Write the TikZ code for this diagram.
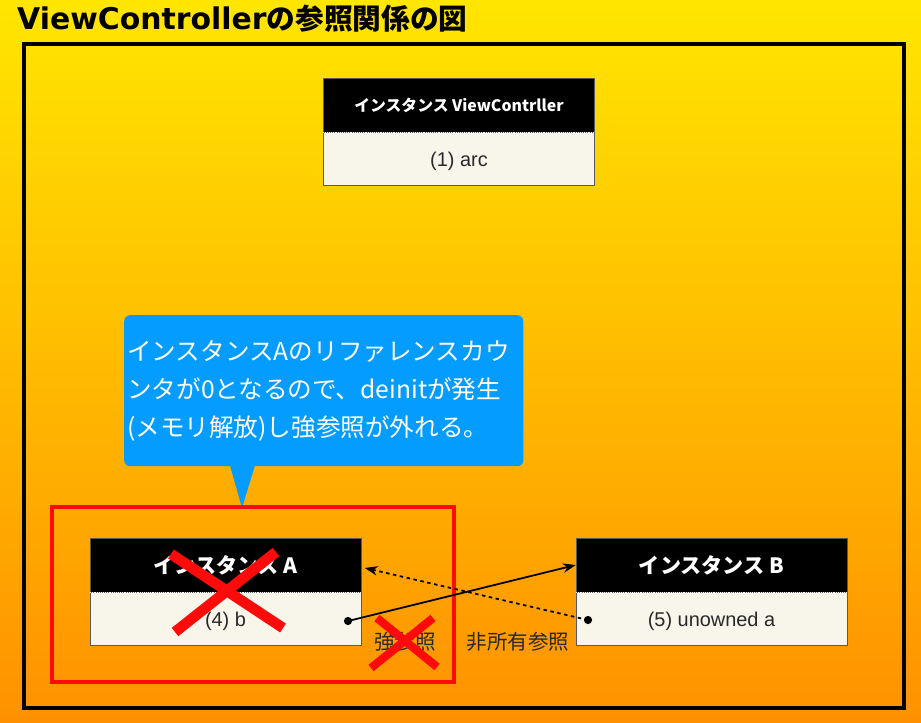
\documentclass[tikz,border=0pt]{standalone}
\usepackage{fontspec}
\setmainfont{Liberation Sans}
\newfontfamily\jp{Noto Sans CJK JP}
\newfontfamily\wide{DejaVu Sans}
\usetikzlibrary{calc,arrows.meta}
\definecolor{bgtop}{RGB}{255,230,0}
\definecolor{bgbot}{RGB}{255,145,0}
\definecolor{cream}{RGB}{248,246,234}
\definecolor{edge}{RGB}{90,90,90}
\definecolor{bubble}{RGB}{4,156,254}
\definecolor{ink}{RGB}{40,40,40}
\definecolor{xred}{RGB}{255,10,10}
\tikzset{
  hdr/.style={fill=black, draw=edge, text=white, minimum width=8.13cm, minimum height=1.62cm, inner sep=0pt, font=\jp\bfseries\fontsize{18}{20}\selectfont},
  body/.style={fill=cream, draw=edge, text=ink, minimum width=8.13cm, minimum height=1.59cm, inner sep=0pt, text depth=0pt, font=\fontsize{17}{19}\selectfont},
  sep/.style={white, densely dotted, line width=0.6pt},
  dotnode/.style={circle, fill=black, inner sep=0pt, minimum size=7pt},
  ref/.style={line width=1.5pt, -{Stealth[length=11pt,width=8pt]}},
  cross/.style={xred, line width=9pt},
  jplabel/.style={text=ink, font=\jp\fontsize{17.5}{19}\selectfont}
}
\begin{document}
\begin{tikzpicture}[x=0.03cm, y=-0.03cm]
		%%%%% START %%%%%
		\useasboundingbox (0,0) rectangle (921,722);
		\shade[top color=bgtop, bottom color=bgbot] (0,0) rectangle (921,722);
		
		\node[anchor=west, inner sep=0pt] (title) at (17,19) {{\wide\bfseries\fontsize{25.5}{28}\selectfont ViewController}{\jp\bfseries\fontsize{24.5}{28}\selectfont の参照関係の図}};
		\draw[line width=2.6pt] (24,44) rectangle (904,708);
		
		\node[hdr, font=\jp\bfseries\fontsize{13.5}{16}\selectfont] (vcH) at (459,105) {インスタンス ViewContrller};
		\node[body, anchor=north] (vcB) at (vcH.south) {(1) arc};
		\draw[sep] (vcH.south west) -- (vcH.south east);
		
		\node[fill=bubble, rounded corners=5pt, text=white, anchor=north west, text width=11.79cm, inner xsep=0.09cm, minimum height=4.53cm, align=left, font=\jp\fontsize{21}{32.3}\selectfont] (note) at (124,315) {インスタンスAのリファレンスカウ\\ンタが0となるので、deinitが発生\\(メモリ解放)し強参照が外れる。};
		\fill[bubble] (229,462) -- (256,462) -- (242,508) -- cycle;
		
		\draw[xred, line width=2.6pt] (52,507) rectangle (454,682);
		
		\node[hdr] (aH) at (225.5,565) {インスタンス A};
		\node[body, anchor=north] (aB) at (aH.south) {(4) b};
		\draw[sep] (aH.south west) -- (aH.south east);
		
		\node[hdr] (bH) at (711.5,565) {インスタンス B};
		\node[body, anchor=north] (bB) at (bH.south) {(5) unowned a};
		\draw[sep] (bH.south west) -- (bH.south east);
		
		\node[dotnode] (dotA) at (348,621) {};
		\node[dotnode] (dotB) at (588,620) {};
		\draw[ref] (dotA.center) -- (bH.west);
		\draw[ref, dashed] (dotB.center) -- ([xshift=3pt,yshift=-2.5pt]aH.east);
		
		\node[jplabel] (strong) at (405,642) {強参照};
		\node[jplabel] (weak) at (518,642) {非所有参照};
		
		\draw[cross] (175,632) -- (276,552);
		\draw[cross] (171,554) -- (283,628);
		\draw[cross, line width=7pt] (371,668) -- (433,618);
		\draw[cross, line width=7pt] (377,618) -- (437,667);
		%%%%% END %%%%%
	\end{tikzpicture}
\end{document}
